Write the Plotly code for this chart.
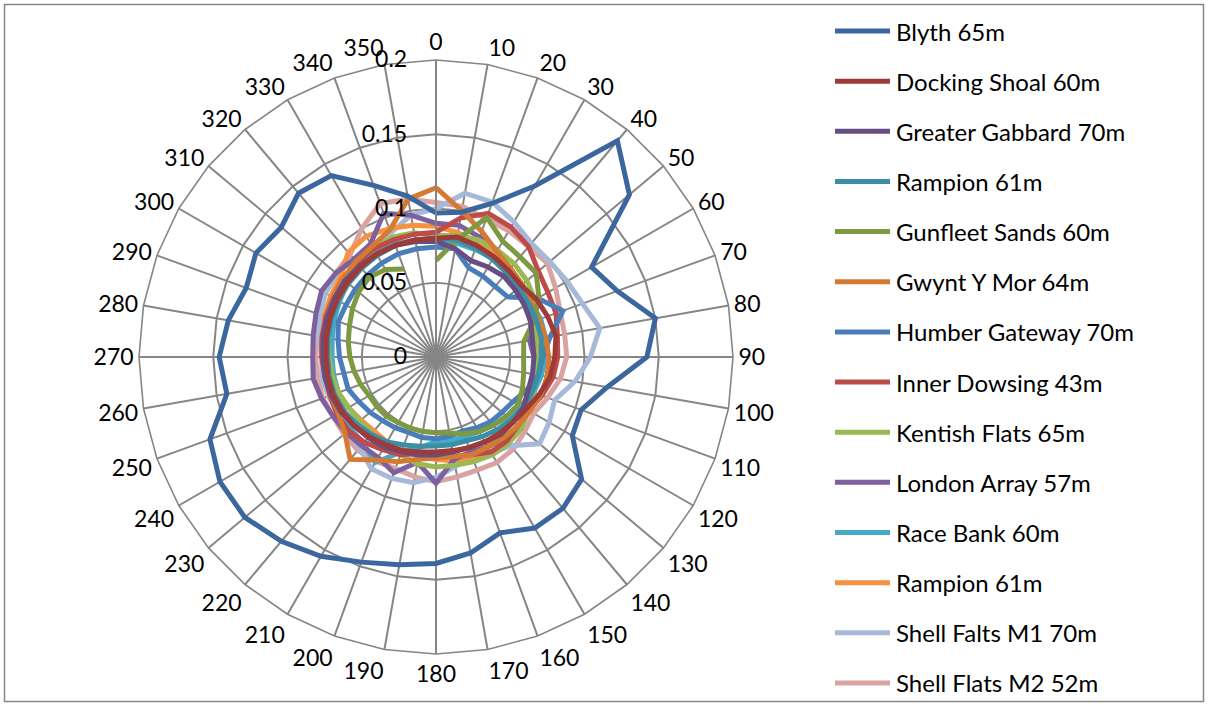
import plotly.graph_objects as go

# Wind direction bins (degrees) and radial scale
directions = [str(d) for d in range(0, 360, 10)]
radial_ticks = [0, 0.05, 0.1, 0.15, 0.2]
radial_labels = ["0", "0.05", "0.1", "0.15", "0.2"]

names = [
    "Blyth 65m", "Docking Shoal 60m", "Greater Gabbard 70m", "Rampion 61m",
    "Gunfleet Sands 60m", "Gwynt Y Mor 64m", "Humber Gateway 70m",
    "Inner Dowsing 43m", "Kentish Flats 65m", "London Array 57m",
    "Race Bank 60m", "Rampion 61m", "Shell Falts M1 70m", "Shell Flats M2 52m",
]
colors = [
    "#3C679E", "#9E3B38", "#664E82", "#3A8FA6", "#7D9A43", "#D57A32",
    "#4A7EBB", "#BE4B48", "#98B954", "#7D60A0", "#46AAC5", "#F69240",
    "#A7B9D9", "#D9A3A2",
]

blyth = [0.097, 0.099, 0.110, 0.133, 0.190, 0.170, 0.121, 0.130, 0.150, 0.142,
         0.117, 0.104, 0.106, 0.128, 0.133, 0.133, 0.126, 0.134, 0.139, 0.142,
         0.147, 0.155, 0.162, 0.168, 0.168, 0.162, 0.143, 0.146, 0.142, 0.136,
         0.140, 0.136, 0.144, 0.141, 0.123, 0.110]
docking_shoal = [0.080, 0.082, 0.080, 0.078, 0.076, 0.075, 0.078, 0.080, 0.082, 0.080,
                 0.078, 0.074, 0.070, 0.068, 0.067, 0.066, 0.065, 0.064, 0.064, 0.065,
                 0.067, 0.068, 0.070, 0.072, 0.073, 0.074, 0.074, 0.074, 0.075, 0.076,
                 0.077, 0.078, 0.079, 0.080, 0.080, 0.080]
greater_gabbard = [0.078, 0.074, 0.069, 0.070, 0.071, 0.070, 0.069, 0.068, 0.066, 0.066,
                   0.066, 0.066, 0.068, 0.068, 0.068, 0.066, 0.065, 0.065, 0.066, 0.067,
                   0.068, 0.070, 0.071, 0.072, 0.074, 0.075, 0.076, 0.076, 0.077, 0.078,
                   0.079, 0.080, 0.080, 0.080, 0.080, 0.079]
rampion_a = [0.080, 0.080, 0.078, 0.076, 0.074, 0.073, 0.072, 0.072, 0.072, 0.071,
             0.070, 0.069, 0.068, 0.066, 0.064, 0.062, 0.060, 0.060, 0.060, 0.061,
             0.063, 0.066, 0.068, 0.070, 0.072, 0.073, 0.073, 0.073, 0.074, 0.075,
             0.076, 0.077, 0.078, 0.079, 0.080, 0.080]
gunfleet_sands = [0.065, 0.080, 0.100, 0.090, 0.088, 0.088, 0.080, 0.070, 0.060, 0.059,
                  0.060, 0.062, 0.064, 0.062, 0.060, 0.058, 0.055, 0.052, 0.051, 0.051,
                  0.051, 0.051, 0.052, 0.052, 0.052, 0.054, 0.056, 0.058, 0.060, 0.062,
                  0.065, 0.068, 0.070, 0.068, 0.063, None]
gwynt_y_mor = [0.114, 0.100, 0.090, 0.082, 0.078, 0.076, 0.074, 0.074, 0.075, 0.076,
               0.076, 0.075, 0.073, 0.072, 0.071, 0.070, 0.070, 0.068, 0.068, 0.070,
               0.075, 0.080, 0.090, 0.080, 0.076, 0.075, 0.075, 0.075, 0.076, 0.078,
               0.080, 0.082, 0.084, 0.086, 0.091, 0.108]
humber_gateway = [0.074, 0.074, 0.064, 0.063, 0.062, 0.063, 0.079, 0.091, 0.078, 0.072,
                  0.070, 0.065, 0.060, 0.058, 0.057, 0.055, 0.053, 0.054, 0.055, 0.055,
                  0.054, 0.055, 0.056, 0.058, 0.060, 0.063, 0.063, 0.065, 0.067, 0.070,
                  0.070, 0.071, 0.072, 0.073, 0.074, 0.074]
inner_dowsing = [0.084, 0.095, 0.103, 0.101, 0.097, 0.090, 0.087, 0.086, 0.083, 0.082,
                 0.080, 0.076, 0.072, 0.072, 0.074, 0.074, 0.070, 0.068, 0.065, 0.066,
                 0.070, 0.072, 0.075, 0.077, 0.077, 0.076, 0.076, 0.077, 0.078, 0.079,
                 0.080, 0.082, 0.083, 0.084, 0.084, 0.084]
kentish_flats = [0.082, 0.083, 0.084, 0.083, 0.082, 0.080, 0.077, 0.073, 0.068, 0.068,
                 0.068, 0.070, 0.072, 0.075, 0.076, 0.076, 0.075, 0.074, 0.074, 0.073,
                 0.070, 0.068, 0.067, 0.067, 0.068, 0.070, 0.071, 0.072, 0.074, 0.076,
                 0.078, 0.080, 0.082, 0.084, 0.086, 0.085]
london_array = [0.090, 0.090, 0.086, 0.083, 0.075, 0.070, 0.070, 0.068, 0.064, 0.066,
                0.068, 0.070, 0.072, 0.073, 0.072, 0.070, 0.068, 0.070, 0.085, 0.072,
                0.083, 0.078, 0.078, 0.079, 0.080, 0.082, 0.084, 0.083, 0.084, 0.086,
                0.089, 0.088, 0.086, 0.088, 0.103, 0.097]
race_bank = [0.078, 0.078, 0.077, 0.077, 0.076, 0.075, 0.074, 0.075, 0.075, 0.074,
             0.072, 0.070, 0.066, 0.063, 0.060, 0.058, 0.057, 0.057, 0.057, 0.062,
             0.068, 0.082, 0.076, 0.075, 0.072, 0.070, 0.070, 0.070, 0.071, 0.073,
             0.075, 0.078, 0.080, 0.082, 0.081, 0.080]
rampion_b = [0.088, 0.085, 0.082, 0.080, 0.077, 0.075, 0.073, 0.071, 0.070, 0.068,
             0.067, 0.068, 0.068, 0.068, 0.068, 0.070, 0.074, 0.071, 0.069, 0.068,
             0.067, 0.066, 0.065, 0.066, 0.068, 0.070, 0.072, 0.073, 0.076, 0.080,
             0.082, 0.084, 0.092, 0.094, 0.092, 0.090]
shell_flats_m1 = [0.100, 0.112, 0.111, 0.105, 0.100, 0.100, 0.102, 0.105, 0.112, 0.104,
                  0.095, 0.085, 0.088, 0.091, 0.078, 0.075, 0.071, 0.075, 0.081, 0.086,
                  0.087, 0.087, 0.080, 0.077, 0.076, 0.077, 0.078, 0.077, 0.080, 0.083,
                  0.086, 0.087, 0.086, 0.085, 0.089, 0.097]
shell_flats_m2 = [0.104, 0.103, 0.099, 0.098, 0.097, 0.098, 0.093, 0.089, 0.088, 0.088,
                  0.085, 0.080, 0.076, 0.078, 0.081, 0.082, 0.081, 0.082, 0.084, 0.082,
                  0.080, 0.081, 0.082, 0.081, 0.080, 0.081, 0.081, 0.081, 0.082, 0.085,
                  0.087, 0.088, 0.090, 0.100, 0.110, 0.108]

series = [blyth, docking_shoal, greater_gabbard, rampion_a, gunfleet_sands,
          gwynt_y_mor, humber_gateway, inner_dowsing, kentish_flats, london_array,
          race_bank, rampion_b, shell_flats_m1, shell_flats_m2]

W, H = 1208, 706
FONT = "Lato"
GRID = "#868686"

fig = go.Figure()
# Draw the last series first so the first one sits on top
for name, color, vals in reversed(list(zip(names, colors, series))):
    fig.add_trace(go.Scatterpolar(
        r=vals + [vals[0]],
        theta=directions + [directions[0]],
        mode="lines",
        name=name,
        line=dict(color=color, width=5),
        connectgaps=False,
        showlegend=False,
        hoverinfo="name+r+theta",
    ))

# Polar area placement (pixels -> paper fractions)
cx, cy, R = 436, 357, 297
fig.update_layout(
    width=W, height=H,
    margin=dict(l=0, r=0, t=0, b=0),
    paper_bgcolor="white",
    plot_bgcolor="white",
    font=dict(family=FONT, size=23, color="black"),
    polar=dict(
        domain=dict(x=[(cx - R) / W, (cx + R) / W],
                    y=[(H - cy - R) / H, (H - cy + R) / H]),
        bgcolor="white",
        gridshape="linear",
        angularaxis=dict(
            type="category",
            categoryarray=directions,
            rotation=90,
            direction="clockwise",
            showline=True,
            linecolor=GRID,
            linewidth=1.6,
            gridcolor=GRID,
            gridwidth=1.6,
            ticks="",
            tickfont=dict(family=FONT, size=23, color="black"),
        ),
        radialaxis=dict(
            range=[0, 0.2],
            tickvals=radial_ticks,
            ticktext=radial_labels,
            angle=90,
            tickangle=90,
            side="counterclockwise",
            showline=True,
            linecolor=GRID,
            linewidth=1.6,
            gridcolor=GRID,
            gridwidth=1.6,
            ticks="outside",
            ticklen=20,
            tickcolor="rgba(0,0,0,0)",
            tickfont=dict(family=FONT, size=23, color="black"),
        ),
    ),
)

# Chart frame
fig.add_shape(type="rect", xref="paper", yref="paper",
              x0=4.5 / W, x1=1 - 4.5 / W, y0=4.5 / H, y1=1 - 4.5 / H,
              line=dict(color=GRID, width=1.5), fillcolor="rgba(0,0,0,0)", layer="below")

# Legend: one row per series, line sample plus label
lx0, lx1, ly0, lstep = 835, 890, 31, 50.15
for i, (name, color) in enumerate(zip(names, colors)):
    y = 1 - (ly0 + i * lstep) / H
    fig.add_shape(type="line", xref="paper", yref="paper",
                  x0=lx0 / W, x1=lx1 / W, y0=y, y1=y,
                  line=dict(color=color, width=5))
    fig.add_annotation(xref="paper", yref="paper", x=(lx1 + 4) / W, y=y,
                       text=name, showarrow=False, xanchor="left", yanchor="middle",
                       font=dict(family=FONT, size=24, color="black"))

fig.write_html("out.html")
